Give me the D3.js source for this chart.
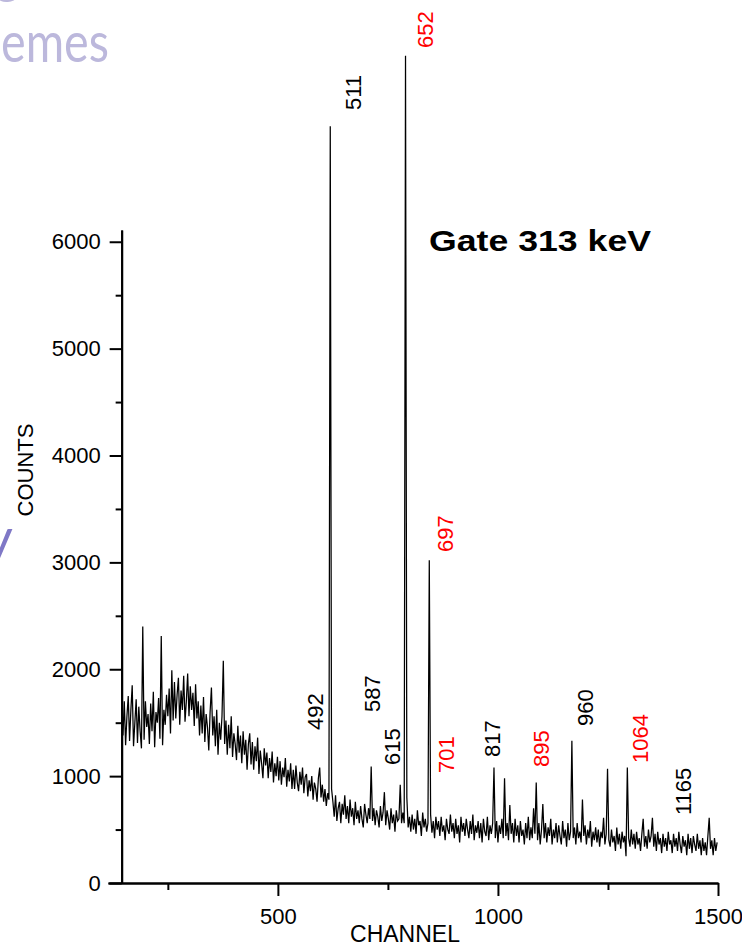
<!DOCTYPE html>
<html>
<head>
<meta charset="utf-8">
<script src="https://cdn.jsdelivr.net/npm/d3@7"></script>
<style>
	body { margin: 0; background: #fff; }
	svg { display: block; }
</style>
</head>
<body>
<div id="chart"></div>
<script>
//setup constants
const WIDTH = 742;
const HEIGHT = 947;

//spectrum, one value every 3 channels from 145 to 1498 (10 per row)
const channels = d3.range(145, 1499, 3);
const counts = [
	1640, 1380, 1700, 1290, 1560, 1750, 1330, 1620, 1850, 1280, // 145
	1500, 1720, 1310, 1650, 1420, 1260, 2400, 1340, 1700, 1460, // 175
	1580, 1300, 1680, 1420, 1790, 1270, 1600, 1500, 1730, 1350, // 205
	2310, 1290, 1620, 1480, 1760, 1560, 1820, 1400, 1990, 1520, // 235
	1880, 1540, 1760, 1920, 1480, 1800, 1620, 1940, 1510, 1700, // 265
	1960, 1560, 1840, 1620, 1780, 1470, 1860, 1540, 1700, 1380, // 295
	1660, 1400, 1740, 1320, 1580, 1460, 1240, 1600, 1830, 1380, // 325
	1560, 1280, 1620, 1200, 1500, 1340, 1560, 2080, 1300, 1520, // 355
	1200, 1480, 1260, 1560, 1180, 1400, 1300, 1150, 1470, 1220, // 385
	1380, 1120, 1420, 1200, 1340, 1060, 1300, 1400, 1110, 1320, // 415
	1060, 1280, 1140, 1360, 1020, 1240, 1120, 980, 1260, 1100,  // 445
	1220, 980, 1170, 1040, 1230, 940, 1120, 1000, 1180, 960,    // 475
	1140, 920, 1080, 990, 1170, 900, 1060, 950, 1120, 880,      // 505
	1060, 880, 1100, 940, 860, 1040, 920, 1080, 840, 990,       // 535
	1020, 810, 960, 860, 1000, 780, 940, 880, 760, 980,         // 565
	1080, 800, 920, 760, 880, 720, 840, 780, 7080, 880,         // 595
	760, 620, 820, 580, 700, 760, 560, 740, 640, 820,           // 625
	600, 720, 560, 780, 620, 700, 540, 760, 600, 680,           // 655
	560, 720, 600, 520, 740, 640, 560, 700, 600, 1090,          // 685
	580, 700, 540, 680, 620, 520, 720, 580, 660, 850,           // 715
	540, 680, 600, 500, 700, 560, 640, 480, 680, 580,           // 745
	600, 920, 560, 660, 560, 7740, 800, 520, 620, 480,          // 775
	640, 500, 600, 460, 680, 540, 580, 440, 660, 520,           // 805
	600, 480, 560, 3020, 640, 470, 580, 420, 620, 500,          // 835
	580, 440, 620, 480, 540, 400, 600, 500, 460, 640,           // 865
	480, 560, 420, 600, 460, 540, 380, 620, 480, 560,           // 895
	440, 600, 500, 420, 580, 460, 640, 400, 540, 470,           // 925
	580, 420, 560, 380, 600, 480, 440, 620, 400, 540,           // 955
	460, 560, 1080, 420, 580, 380, 540, 460, 600, 420,          // 985
	980, 440, 560, 400, 730, 460, 560, 380, 600, 440,           // 1015
	540, 380, 580, 440, 500, 360, 560, 420, 620, 400,           // 1045
	520, 420, 700, 460, 940, 400, 560, 360, 500, 740,           // 1075
	420, 560, 380, 520, 440, 600, 360, 500, 420, 560,           // 1105
	380, 540, 440, 360, 580, 420, 500, 340, 560, 400,           // 1135
	480, 1330, 420, 520, 360, 560, 420, 480, 380, 780,          // 1165
	440, 540, 360, 500, 420, 580, 340, 480, 400, 520,           // 1195
	380, 500, 340, 480, 420, 610, 360, 460, 1070, 400,          // 1225
	340, 500, 380, 440, 300, 520, 360, 460, 320, 480,           // 1255
	380, 440, 250, 1080, 420, 340, 500, 360, 460, 320,          // 1285
	480, 360, 420, 300, 460, 600, 340, 440, 320, 500,           // 1315
	380, 440, 610, 340, 460, 300, 480, 360, 420, 280,           // 1345
	460, 340, 420, 300, 480, 360, 400, 280, 460, 340,           // 1375
	420, 300, 480, 360, 280, 440, 340, 400, 260, 460,           // 1405
	320, 420, 280, 440, 360, 300, 460, 320, 400, 260,           // 1435
	420, 300, 380, 260, 440, 610, 320, 400, 260, 420,           // 1465
	300, 380                                                    // 1495
];

//axis ticks
const yMajor = [0, 1000, 2000, 3000, 4000, 5000, 6000];
const yMinor = [500, 1500, 2500, 3500, 4500, 5500];
const xMajor = [500, 1000, 1500];
const xMinor = [250, 750, 1250];

//peak labels, energy in keV placed at channel / counts
const peakNames = ['511', '652', '697', '492', '587', '615', '701', '817', '895', '960', '1064', '1165'];
const peakChan = [689, 852, 898, 602, 732, 777, 900, 1005, 1116, 1216, 1341, 1439];
const peakCounts = [7233, 7813, 3097, 1432, 1600, 1104, 1029, 1179, 1085, 1469, 1123, 636];
const peakRed = [false, true, true, false, false, false, true, false, true, false, true, false];

const spectrum = channels.map((c, i) => [c, counts[i]]);

//create svg
let svg = d3.select('#chart')
			.append('svg')
			.attr('width', WIDTH)
			.attr('height', HEIGHT)
			.style('font-family', '"Liberation Sans", Arial, sans-serif');

//pieces of the slide behind the plot
svg.append('text')
	.attr('x', -9)
	.attr('y', 2)
	.attr('font-family', 'Lato, sans-serif')
	.attr('font-size', 54)
	.attr('fill', '#bcb8dc')
	.text('e');

svg.append('text')
	.attr('x', 1)
	.attr('y', 62)
	.attr('font-family', 'Lato, sans-serif')
	.attr('font-size', 56)
	.attr('textLength', 108)
	.attr('lengthAdjust', 'spacingAndGlyphs')
	.attr('fill', '#bcb8dc')
	.text('emes');

svg.append('text')
	.attr('x', -15)
	.attr('y', 557)
	.attr('font-family', 'Lato, sans-serif')
	.attr('font-size', 54)
	.attr('fill', '#7f78c6')
	.text('y');

//scales
let x = d3.scaleLinear().domain([114, 1500]).range([108, 718]);
let y = d3.scaleLinear().domain([0, 6110]).range([883, 230]);

//spectrum line
let line = d3.line()
			.x(d => x(d[0]))
			.y(d => y(d[1]));

svg.append('path')
	.datum(spectrum)
	.attr('d', line)
	.attr('fill', 'none')
	.attr('stroke', '#000')
	.attr('stroke-width', 1.25)
	.attr('stroke-linejoin', 'miter');

//x axis
svg.append('g')
	.attr('transform', `translate(0,${y(0)})`)
	.call(d3.axisBottom(x).tickValues(xMajor).tickSize(13).tickSizeOuter(0).tickPadding(12).tickFormat(d3.format('d')));

svg.append('g')
	.attr('transform', `translate(0,${y(0)})`)
	.call(d3.axisBottom(x).tickValues(xMinor).tickSize(7).tickSizeOuter(0).tickFormat(''));

//y axis
svg.append('g')
	.attr('transform', `translate(${x(145)},0)`)
	.call(d3.axisLeft(y).tickValues(yMajor).tickSize(12).tickSizeOuter(0).tickPadding(9).tickFormat(d3.format('d')));

svg.append('g')
	.attr('transform', `translate(${x(145)},0)`)
	.call(d3.axisLeft(y).tickValues(yMinor).tickSize(6).tickSizeOuter(0).tickFormat(''));

svg.selectAll('.domain, .tick line')
	.attr('stroke', '#000')
	.attr('stroke-width', 2);

svg.selectAll('.tick text')
	.attr('fill', '#000')
	.style('font-size', '22px')
	.style('font-family', '"Liberation Sans", Arial, sans-serif');

//axis titles
svg.append('text')
	.attr('x', 405)
	.attr('y', 942)
	.attr('text-anchor', 'middle')
	.attr('font-size', 23)
	.text('CHANNEL');

svg.append('text')
	.attr('transform', 'translate(33,470) rotate(-90)')
	.attr('text-anchor', 'middle')
	.attr('font-size', 22)
	.text('COUNTS');

svg.append('text')
	.attr('x', 429)
	.attr('y', 251)
	.attr('font-size', 30)
	.attr('font-weight', 'bold')
	.attr('textLength', 222)
	.attr('lengthAdjust', 'spacingAndGlyphs')
	.text('Gate 313 keV');

//peak labels
peakNames.forEach((name, i) => {
	svg.append('text')
		.attr('transform', `translate(${x(peakChan[i])},${y(peakCounts[i])}) rotate(-90)`)
		.attr('font-size', 22)
		.attr('fill', peakRed[i] ? '#ff0000' : '#000')
		.text(name);
});
</script>
</body>
</html>
